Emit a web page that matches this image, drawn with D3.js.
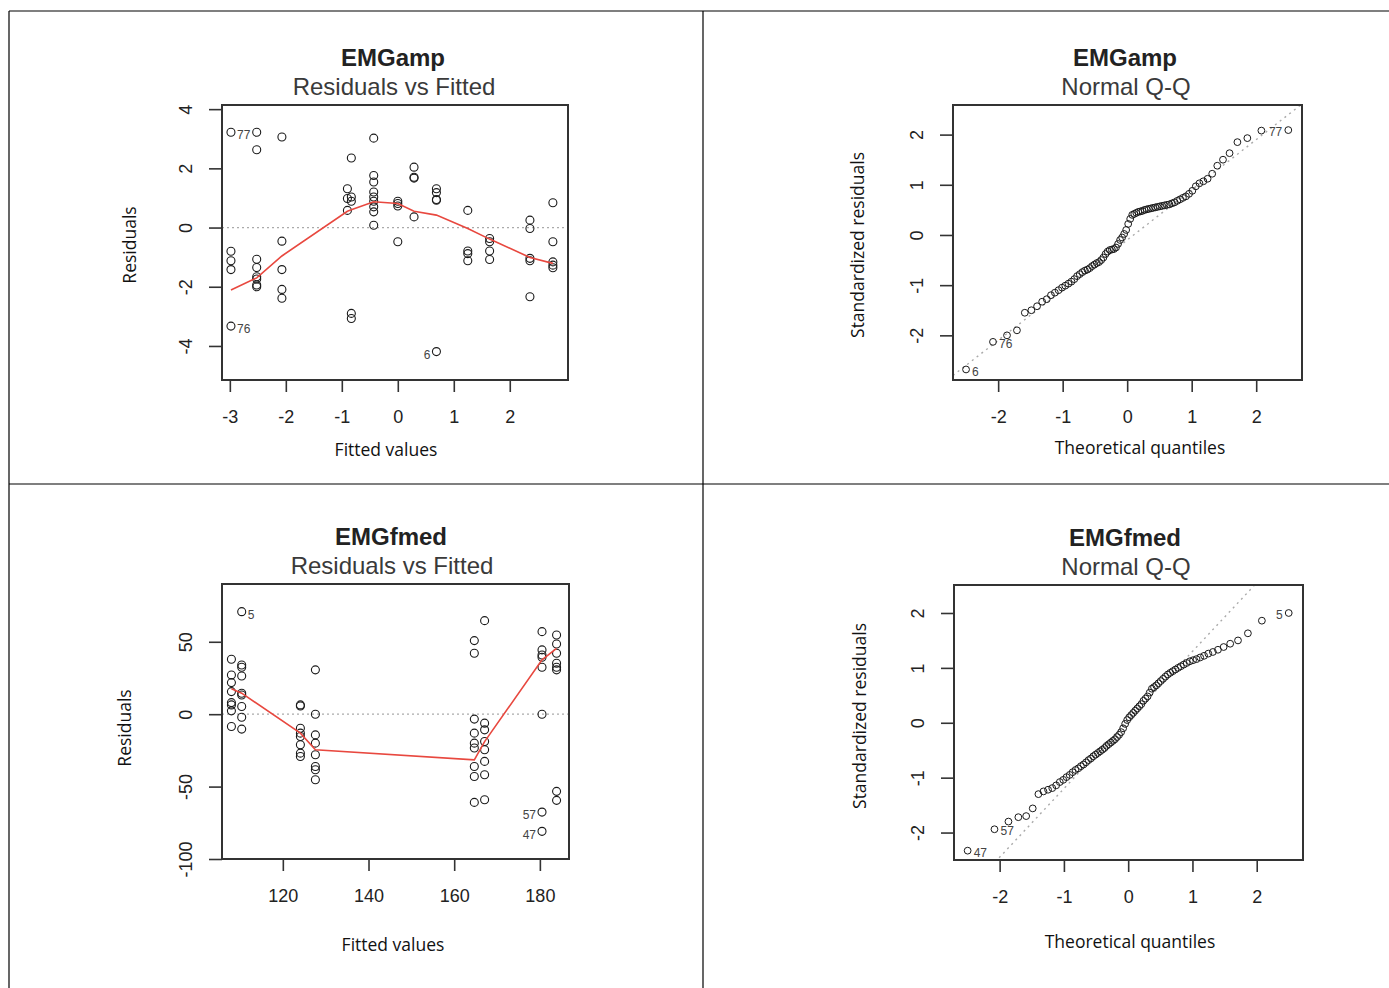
<!DOCTYPE html>
<html>
<head>
<meta charset="utf-8">
<script src="https://cdn.jsdelivr.net/npm/d3@7"></script>
<style>
  body { margin: 0; background: #fff; }
  svg { display: block; }
</style>
</head>
<body>
<svg id="chart" width="1389" height="988"></svg>
<script>
// --- EMGamp: residuals vs fitted (one list of residuals per fitted value)
const ampFitted = [-2.98, -2.52, -2.07, -0.90, -0.83, -0.43, 0.00, 0.29, 0.69, 1.25, 1.64, 2.36, 2.77]
const ampResid = [
  [3.22, -0.80, -1.12, -1.42, -3.33],
  [3.22, 2.63, -1.07, -1.35, -1.66, -1.74, -1.94, -2.00],
  [3.06, -0.46, -1.42, -2.09, -2.39],
  [1.31, 0.98, 0.58],
  [2.35, 1.03, 0.89, -2.90, -3.07],
  [3.02, 1.76, 1.54, 1.20, 1.03, 0.89, 0.70, 0.53, 0.08],
  [0.89, 0.81, 0.73, -0.48],
  [2.04, 1.70, 1.67, 0.36],
  [1.31, 1.18, 0.95, 0.92, -4.19],
  [0.58, -0.79, -0.88, -1.12],
  [-0.37, -0.48, -0.79, -1.08],
  [0.25, -0.03, -1.04, -1.12, -2.34],
  [0.84, -0.48, -1.16, -1.27, -1.36]
]
const ampSmooth = [-2.11, -1.70, -0.96, 0.55, 0.60, 0.87, 0.81, 0.55, 0.42, -0.03, -0.39, -1.01, -1.21]
const ampLabels = [[0, 0, "77"], [0, 4, "76"], [8, 4, "6"]]   // [group, item, text]

// --- EMGamp: normal Q-Q (sorted standardized residuals)
const ampStdResid = [
  -2.68, -2.13, -2.00, -1.90, -1.55, -1.50, -1.42, -1.33, -1.28, -1.20,
  -1.15, -1.10, -1.05, -1.01, -0.97, -0.93, -0.88, -0.82, -0.78, -0.74,
  -0.71, -0.69, -0.66, -0.62, -0.59, -0.56, -0.54, -0.50, -0.45, -0.38,
  -0.33, -0.30, -0.29, -0.28, -0.25, -0.18, -0.10, -0.05, 0.02, 0.10,
  0.22, 0.32, 0.40, 0.42, 0.44, 0.46, 0.47, 0.48, 0.50, 0.51,
  0.52, 0.53, 0.54, 0.55, 0.56, 0.57, 0.58, 0.59, 0.60, 0.61,
  0.63, 0.65, 0.68, 0.71, 0.74, 0.77, 0.82, 0.88, 0.97, 1.03,
  1.07, 1.12, 1.22, 1.38, 1.50, 1.63, 1.85, 1.93, 2.08, 2.09
]
const ampQQLabels = [[0, "6"], [1, "76"], [79, "77"]]
const ampQQLine = [-0.10, 1.00]   // intercept, slope

// --- EMGfmed: residuals vs fitted
const fmedFitted = [108.0, 110.4, 124.1, 127.6, 164.7, 167.1, 180.5, 183.9]
const fmedResid = [
  [37.9, 27.1, 21.8, 15.6, 8.0, 6.4, 2.3, -8.5],
  [70.8, 34.0, 32.4, 26.4, 14.5, 13.3, 5.3, -2.1, -10.3],
  [6.4, 5.7, -9.7, -13.1, -15.4, -21.1, -26.9, -29.2],
  [30.6, 0.0, -14.3, -20.0, -28.0, -36.1, -38.4, -45.3],
  [50.8, 42.1, -3.4, -13.1, -20.0, -23.4, -36.1, -43.0, -60.9],
  [64.6, -6.2, -10.8, -18.9, -24.6, -32.6, -41.8, -59.1],
  [57.0, 44.4, 40.9, 39.3, 32.4, 0.0, -67.6, -80.9],
  [54.7, 48.5, 42.1, 35.2, 32.4, 30.6, -53.3, -59.5]
]
const fmedSmooth = [17.5, 14.5, -13.1, -24.6, -31.5, -18.9, 37.5, 45.5]
const fmedLabels = [[1, 0, "5"], [6, 6, "57"], [6, 7, "47"]]

// --- EMGfmed: normal Q-Q
const fmedStdResid = [
  -2.33, -1.94, -1.80, -1.72, -1.70, -1.56, -1.30, -1.25, -1.22, -1.19,
  -1.14, -1.08, -1.04, -0.99, -0.95, -0.90, -0.86, -0.83, -0.79, -0.76,
  -0.72, -0.68, -0.65, -0.61, -0.58, -0.55, -0.52, -0.49, -0.46, -0.42,
  -0.39, -0.36, -0.33, -0.30, -0.26, -0.22, -0.17, -0.10, -0.02, 0.05,
  0.10, 0.14, 0.18, 0.22, 0.26, 0.30, 0.34, 0.40, 0.44, 0.48,
  0.55, 0.62, 0.65, 0.68, 0.72, 0.76, 0.80, 0.84, 0.88, 0.91,
  0.94, 0.97, 1.00, 1.03, 1.06, 1.09, 1.12, 1.14, 1.16, 1.19,
  1.22, 1.26, 1.29, 1.33, 1.38, 1.44, 1.50, 1.63, 1.86, 2.00
]
const fmedQQLabels = [[0, "47"], [1, "57"], [79, "5"]]
const fmedQQLine = [0.05, 1.25]

// inverse normal cdf (Acklam), used for the theoretical quantiles
function qnorm(p) {
  const a = [-39.69683028665376, 220.9460984245205, -275.9285104469687, 138.3577518672690, -30.66479806614716, 2.506628277459239]
  const b = [-54.47609879822406, 161.5858368580409, -155.6989798598866, 66.80131188771972, -13.28068155288572]
  const c = [-0.007784894002430293, -0.3223964580411365, -2.400758277161838, -2.549732539343734, 4.374664141464968, 2.938163982698783]
  const d = [0.007784695709041462, 0.3224671290700398, 2.445134137142996, 3.754408661907416]
  const lo = 0.02425
  if (p < lo) {
    const q = Math.sqrt(-2 * Math.log(p))
    return (((((c[0]*q + c[1])*q + c[2])*q + c[3])*q + c[4])*q + c[5]) / ((((d[0]*q + d[1])*q + d[2])*q + d[3])*q + 1)
  }
  if (p > 1 - lo) return -qnorm(1 - p)
  const q = p - 0.5, r = q * q
  return (((((a[0]*r + a[1])*r + a[2])*r + a[3])*r + a[4])*r + a[5]) * q / (((((b[0]*r + b[1])*r + b[2])*r + b[3])*r + b[4])*r + 1)
}

const svg = d3.select("#chart")
const tickFont = "'Liberation Sans', Arial, sans-serif"
const labelFont = "'Open Sans', 'Noto Sans', sans-serif"

// table grid
const grid = [[9, 11, 1389, 11], [9, 11, 9, 988], [703, 11, 703, 988], [9, 484, 1389, 484]]
svg.selectAll("line.grid").data(grid).join("line")
  .attr("class", "grid")
  .attr("x1", d => d[0]).attr("y1", d => d[1])
  .attr("x2", d => d[2]).attr("y2", d => d[3])
  .attr("stroke", "#000").attr("stroke-width", 1.2)

let clipId = 0

function drawPanel(cfg) {
  const g = svg.append("g")
  const b = cfg.box
  const x = d3.scaleLinear().domain(cfg.xDomain).range([b.x0, b.x1])
  const y = d3.scaleLinear().domain(cfg.yDomain).range([b.y1, b.y0])

  const id = "clip" + (clipId++)
  svg.append("clipPath").attr("id", id)
    .append("rect").attr("x", b.x0).attr("y", b.y0)
    .attr("width", b.x1 - b.x0).attr("height", b.y1 - b.y0)
  const inner = g.append("g").attr("clip-path", `url(#${id})`)

  // titles
  g.append("text").attr("x", cfg.titleX).attr("y", b.y0 - 47).attr("dy", "0.35em")
    .attr("text-anchor", "middle").style("font", `bold 24px ${tickFont}`).attr("fill", "#222")
    .text(cfg.title)
  g.append("text").attr("x", cfg.titleX + 1).attr("y", b.y0 - 18).attr("dy", "0.35em")
    .attr("text-anchor", "middle").style("font", `24px ${tickFont}`).attr("fill", "#3a3a3a")
    .text(cfg.subtitle)

  // axes
  const xAxis = d3.axisBottom(x).tickValues(cfg.xTicks).tickSize(12).tickSizeOuter(0).tickFormat(d => String(d))
  const yAxis = d3.axisLeft(y).tickValues(cfg.yTicks).tickSize(13).tickSizeOuter(0).tickFormat(d => String(d))
  const xg = g.append("g").attr("transform", `translate(0,${b.y1})`).call(xAxis)
  const yg = g.append("g").attr("transform", `translate(${b.x0},0)`).call(yAxis)
  for (const ag of [xg, yg]) {
    ag.select(".domain").remove()
    ag.selectAll("line").attr("stroke", "#333").attr("stroke-width", 1.6)
    ag.selectAll("text").style("font", `18px ${tickFont}`).attr("fill", "#222")
  }
  xg.selectAll("text").attr("y", 0).attr("dy", "0.35em").attr("transform", "translate(0,37)")
  yg.selectAll("text").attr("x", 0).attr("dy", "0.35em")
    .attr("text-anchor", "middle").attr("transform", "translate(-36,0) rotate(-90)")

  // axis titles
  g.append("text").attr("x", cfg.xLabelPos[0]).attr("y", cfg.xLabelPos[1]).attr("dy", "0.35em")
    .attr("text-anchor", "middle").style("font", `17.5px ${labelFont}`).attr("fill", "#111")
    .text(cfg.xLabel)
  g.append("text").attr("transform", `translate(${cfg.yLabelPos[0]},${cfg.yLabelPos[1]}) rotate(-90)`)
    .attr("dy", "0.35em").attr("text-anchor", "middle")
    .style("font", `17.5px ${labelFont}`).attr("fill", "#111")
    .text(cfg.yLabel)

  cfg.draw(inner, g, x, y)

  // frame
  g.append("rect").attr("x", b.x0).attr("y", b.y0)
    .attr("width", b.x1 - b.x0).attr("height", b.y1 - b.y0)
    .attr("fill", "none").attr("stroke", "#333").attr("stroke-width", 2)
}

function pointLabel(g, px, py, text, right, dy) {
  g.append("text").attr("x", right ? px + 6 : px - 6).attr("y", py + dy).attr("dy", "0.35em")
    .attr("text-anchor", right ? "start" : "end")
    .style("font", `12px ${tickFont}`).attr("fill", "#444").text(text)
}

function residPanel(fitted, resid, smooth, labels) {
  return (inner, g, x, y) => {
    inner.append("line").attr("x1", x.range()[0]).attr("x2", x.range()[1])
      .attr("y1", y(0)).attr("y2", y(0))
      .attr("stroke", "#aaa").attr("stroke-width", 1.2).attr("stroke-dasharray", "2,3")
    const pts = fitted.flatMap((f, i) => resid[i].map(r => [f, r]))
    inner.selectAll("circle").data(pts).join("circle")
      .attr("cx", d => x(d[0])).attr("cy", d => y(d[1])).attr("r", 4)
      .attr("fill", "none").attr("stroke", "#1a1a1a").attr("stroke-width", 1.1)
    const line = d3.line().x((d, i) => x(fitted[i])).y(d => y(d))
    inner.append("path").datum(smooth).attr("d", line)
      .attr("fill", "none").attr("stroke", "#e8483f").attr("stroke-width", 1.6)
    const mid = d3.mean(x.domain())
    for (const [gi, ii, t] of labels) {
      const f = fitted[gi], r = resid[gi][ii]
      pointLabel(g, x(f), y(r), t, f < mid, 3)
    }
  }
}

function qqPanel(vals, labels, qqLine) {
  return (inner, g, x, y) => {
    const n = vals.length
    const pts = vals.map((v, i) => [qnorm((i + 1 - 0.5) / n), v])
    const xd = x.domain()
    inner.append("line")
      .attr("x1", x(xd[0])).attr("y1", y(qqLine[0] + qqLine[1] * xd[0]))
      .attr("x2", x(xd[1])).attr("y2", y(qqLine[0] + qqLine[1] * xd[1]))
      .attr("stroke", "#aaa").attr("stroke-width", 1.4).attr("stroke-dasharray", "2,4")
    inner.selectAll("circle").data(pts).join("circle")
      .attr("cx", d => x(d[0])).attr("cy", d => y(d[1])).attr("r", 3.4)
      .attr("fill", "none").attr("stroke", "#1a1a1a").attr("stroke-width", 1)
    const mid = d3.mean(xd)
    for (const [i, t] of labels) {
      const p = pts[i]
      pointLabel(g, x(p[0]), y(p[1]), t, p[0] < mid, 2)
    }
  }
}

drawPanel({
  box: { x0: 222, x1: 568, y0: 105, y1: 380 },
  xDomain: [-3.14, 3.04], yDomain: [-5.15, 4.14],
  xTicks: [-3, -2, -1, 0, 1, 2], yTicks: [-4, -2, 0, 2, 4],
  title: "EMGamp", subtitle: "Residuals vs Fitted", titleX: 393,
  xLabel: "Fitted values", xLabelPos: [386, 450],
  yLabel: "Residuals", yLabelPos: [130, 245],
  draw: residPanel(ampFitted, ampResid, ampSmooth, ampLabels)
})

drawPanel({
  box: { x0: 953, x1: 1302, y0: 105, y1: 380 },
  xDomain: [-2.70, 2.71], yDomain: [-2.89, 2.59],
  xTicks: [-2, -1, 0, 1, 2], yTicks: [-2, -1, 0, 1, 2],
  title: "EMGamp", subtitle: "Normal Q-Q", titleX: 1125,
  xLabel: "Theoretical quantiles", xLabelPos: [1140, 448],
  yLabel: "Standardized residuals", yLabelPos: [858, 245],
  draw: qqPanel(ampStdResid, ampQQLabels, ampQQLine)
})

drawPanel({
  box: { x0: 222, x1: 569, y0: 584, y1: 859 },
  xDomain: [105.8, 186.8], yDomain: [-100, 89.9],
  xTicks: [120, 140, 160, 180], yTicks: [-100, -50, 0, 50],
  title: "EMGfmed", subtitle: "Residuals vs Fitted", titleX: 391,
  xLabel: "Fitted values", xLabelPos: [393, 945],
  yLabel: "Residuals", yLabelPos: [125, 728],
  draw: residPanel(fmedFitted, fmedResid, fmedSmooth, fmedLabels)
})

drawPanel({
  box: { x0: 954, x1: 1303, y0: 585, y1: 860 },
  xDomain: [-2.71, 2.72], yDomain: [-2.50, 2.51],
  xTicks: [-2, -1, 0, 1, 2], yTicks: [-2, -1, 0, 1, 2],
  title: "EMGfmed", subtitle: "Normal Q-Q", titleX: 1125,
  xLabel: "Theoretical quantiles", xLabelPos: [1130, 942],
  yLabel: "Standardized residuals", yLabelPos: [860, 716],
  draw: qqPanel(fmedStdResid, fmedQQLabels, fmedQQLine)
})
</script>
</body>
</html>
